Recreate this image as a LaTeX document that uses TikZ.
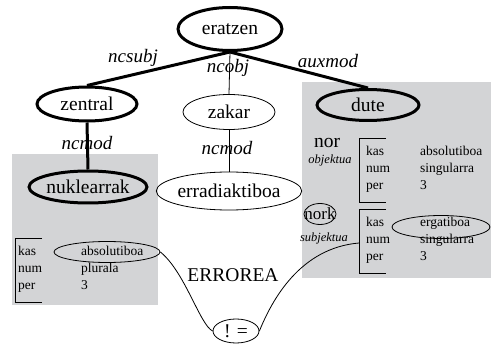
\documentclass[tikz,border=0pt]{standalone}
\usepackage{fontspec}
\setmainfont{Liberation Serif}
\newfontfamily\tmsfont{Liberation Serif}
\usetikzlibrary{shapes.geometric}
\definecolor{boxgray}{RGB}{211,212,214}
\tikzset{
  big/.style={font=\tmsfont\fontsize{19.5}{22}\selectfont},
  elab/.style={font=\tmsfont\fontsize{19}{22}\selectfont\itshape},
  avm/.style={font=\tmsfont\fontsize{13.5}{15}\selectfont, anchor=mid west, inner sep=0},
  role/.style={font=\tmsfont\fontsize{12.5}{14}\selectfont\itshape, inner sep=0},
  ell/.style={ellipse, draw, inner sep=0, line width=0.8pt},
  thickell/.style={ellipse, draw, inner sep=0, line width=3pt},
  thinedge/.style={line width=0.8pt},
  thickedge/.style={line width=3pt},
  bracket/.style={line width=0.9pt}
}
\begin{document}
\begin{tikzpicture}[x=1pt,y=-1pt]
\useasboundingbox (0,0) rectangle (491,345);
% gray boxes
\fill[boxgray] (12,154) rectangle (158,305);
\fill[boxgray] (302,82) rectangle (491,278);
% tree nodes
\node[thickell, big, minimum width=104pt, minimum height=43pt] (eratzen) at (230,29) {eratzen};
\node[thickell, big, minimum width=100pt, minimum height=34pt] (zentral) at (87,104) {zentral};
\node[ell, big, minimum width=92pt, minimum height=35pt] (zakar) at (229,112) {zakar};
\node[thickell, big, minimum width=102pt, minimum height=31pt] (dute) at (368,105) {dute};
\node[thickell, big, minimum width=106pt, minimum height=32pt] (nukle) at (88,187) {nuklearrak};
\node[ell, big, minimum width=134pt, minimum height=38pt] (errad) at (229,191) {erradiaktiboa};
% edges
\draw[thickedge] (eratzen.south) -- (zentral.north);
\draw[thinedge] (eratzen.south) -- (zakar.north);
\draw[thickedge] (eratzen.south) -- (dute.north);
\draw[thickedge] (zentral.south) -- (nukle.north);
\draw[thinedge] (zakar.south) -- (errad.north);
% edge labels
\node[elab] (lsubj) at (133,58) {ncsubj};
\node[elab] (lobj) at (228,68) {ncobj};
\node[elab] (laux) at (328,61) {auxmod};
\node[elab] (lmod1) at (87,143) {ncmod};
\node[elab] (lmod2) at (227,148) {ncmod};
% left AVM
\draw[bracket] (42,238) -- (15,238) -- (15,302) -- (42,302);
\node[avm] (lk) at (18,253) {kas};
\node[avm] (ln) at (18,270) {num};
\node[avm] (lp) at (18,287) {per};
\node[avm] (lkv) at (81,253) {absolutiboa};
\node[avm] (lnv) at (81,270) {plurala};
\node[avm] (lpv) at (81,287) {3};
\node[ell, minimum width=106pt, minimum height=21pt] (labs) at (107,252) {};
% right upper AVM
\node[big] (nor) at (327,143) {nor};
\node[role] (obj) at (330,160) {objektua};
\draw[bracket] (386,138) -- (359,138) -- (359,202) -- (386,202);
\node[avm] (rk) at (366,153) {kas};
\node[avm] (rn) at (366,170) {num};
\node[avm] (rp) at (366,187) {per};
\node[avm] (rkv) at (420,153) {absolutiboa};
\node[avm] (rnv) at (420,170) {singularra};
\node[avm] (rpv) at (420,187) {3};
% right lower AVM
\node[font=\tmsfont\fontsize{17}{19}\selectfont, inner sep=0] (nork) at (320,214) {nork};
\draw[line width=0.8pt] (nork.center) ellipse (16pt and 10.5pt);
\node[role] (subj) at (324,238) {subjektua};
\draw[bracket] (386,209) -- (359,209) -- (359,273) -- (386,273);
\coordinate (subjbr) at (359,243);
\node[avm] (sk) at (366,224) {kas};
\node[avm] (sn) at (366,241) {num};
\node[avm] (sp) at (366,258) {per};
\node[avm] (skv) at (420,224) {ergatiboa};
\node[avm] (snv) at (420,241) {singularra};
\node[avm] (spv) at (420,258) {3};
\node[ell, minimum width=98pt, minimum height=23pt] (serg) at (441,227) {};
% error
\node[big] (err) at (233,275) {ERROREA};
\node[ell, big, minimum width=46pt, minimum height=24pt] (neq) at (236,331) {! =};
\draw[thinedge] (labs.east) .. controls (185,272) and (200,325) .. (neq.west);
\draw[thinedge] (neq.east) .. controls (272,300) and (300,248) .. (subjbr);
\end{tikzpicture}
\end{document}
